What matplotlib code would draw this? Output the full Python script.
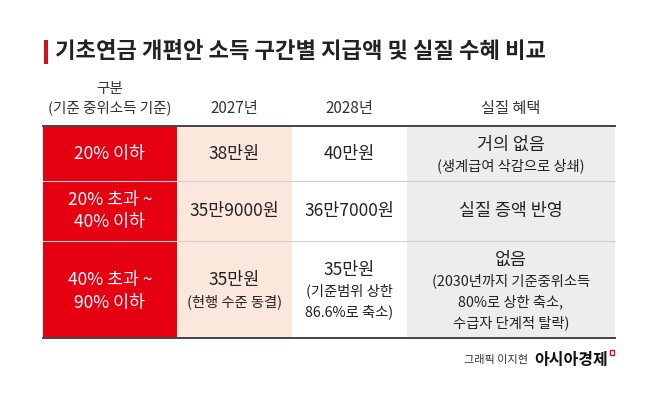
import matplotlib.pyplot as plt
from matplotlib.patches import Rectangle

plt.rcParams['font.family'] = ['Noto Sans CJK KR', 'DejaVu Sans']

# 표 데이터
title = "기초연금 개편안 소득 구간별 지급액 및 실질 수혜 비교"
headers = ["구분\n(기준 중위소득 기준)", "2027년", "2028년", "실질 혜택"]
groups = [["20% 이하"], ["20% 초과 ~", "40% 이하"], ["40% 초과 ~", "90% 이하"]]
pay_2027 = ["38만원", "35만9000원", "35만원"]
note_2027 = [[], [], ["(현행 수준 동결)"]]
pay_2028 = ["40만원", "36만7000원", "35만원"]
note_2028 = [[], [], ["(기준범위 상한", "86.6%로 축소)"]]
benefit = ["거의 없음", "실질 증액 반영", "없음"]
benefit_note = [["(생계급여 삭감으로 상쇄)"], [],
                ["(2030년까지 기준중위소득", "80%로 상한 축소,", "수급자 단계적 탈락)"]]

# 레이아웃 (픽셀 좌표)
col_edges = [43, 177, 292, 407, 615]
row_edges = [126, 181, 241, 338]
col_colors = ["#E50012", "#FCE7DD", "#FFFFFF", "#EDEDED"]
dark = "#222222"

fig = plt.figure(figsize=(6.58, 4.08), dpi=100)
ax = fig.add_axes([0, 0, 1, 1])
ax.set_xlim(0, 658)
ax.set_ylim(408, 0)
ax.axis('off')

# 제목
ax.add_patch(Rectangle((44, 40), 3.5, 24, color="#D0101C", lw=0))
ax.text(55, 52, title, fontsize=16, fontweight='bold', color=dark,
        va='center', ha='left')

# 헤더
cx = [(col_edges[i] + col_edges[i + 1]) / 2 for i in range(4)]
ax.text(cx[0], 89, "구분", fontsize=10.5, color="#333333", ha='center', va='center')
ax.text(cx[0], 108, "(기준 중위소득 기준)", fontsize=10.5, color="#333333",
        ha='center', va='center')
for i in range(1, 4):
    ax.text(cx[i], 108, headers[i], fontsize=11, color="#333333",
            ha='center', va='center')

# 셀 배경
for i in range(4):
    ax.add_patch(Rectangle((col_edges[i], row_edges[0]),
                           col_edges[i + 1] - col_edges[i],
                           row_edges[-1] - row_edges[0],
                           color=col_colors[i], lw=0))

# 행 구분선
for y in row_edges[1:-1]:
    ax.plot([col_edges[0], col_edges[-1]], [y, y], color="#CFCFCF", lw=0.8)
ax.plot([col_edges[0], col_edges[-1]], [row_edges[0]] * 2, color="#444444", lw=1.4)
ax.plot([col_edges[0], col_edges[-1]], [row_edges[-1]] * 2, color="#444444", lw=1.4)


def cell(col, row, main, notes, color=dark, lh=21):
    center = (row_edges[row] + row_edges[row + 1]) / 2 + (1.5 if notes else 0)
    lines = [main] + notes
    n = len(lines)
    for k, line in enumerate(lines):
        y = center + (k - (n - 1) / 2) * lh
        size = 12.5 if k == 0 else 10.3
        ax.text(cx[col], y, line, fontsize=size, color=color,
                ha='center', va='center')


for r in range(3):
    n = len(groups[r])
    center = (row_edges[r] + row_edges[r + 1]) / 2 + (2 if r == 2 else 0)
    for k, line in enumerate(groups[r]):
        ax.text(cx[0], center + (k - (n - 1) / 2) * 23, line, fontsize=12.5,
                color="white", ha='center', va='center')
    cell(1, r, pay_2027[r], note_2027[r])
    cell(2, r, pay_2028[r], note_2028[r])
    cell(3, r, benefit[r], benefit_note[r])

# 출처
ax.text(528, 360, "그래픽 이지현", fontsize=8, color="#333333", ha='right', va='center')
ax.text(534, 360, "아시아경제", fontsize=11.5, fontweight='bold', color="#111111",
        ha='left', va='center')
ax.add_patch(Rectangle((610, 350), 4, 5, fill=False, ec="#D0101C", lw=1))

fig.savefig("out.png", dpi=100)
